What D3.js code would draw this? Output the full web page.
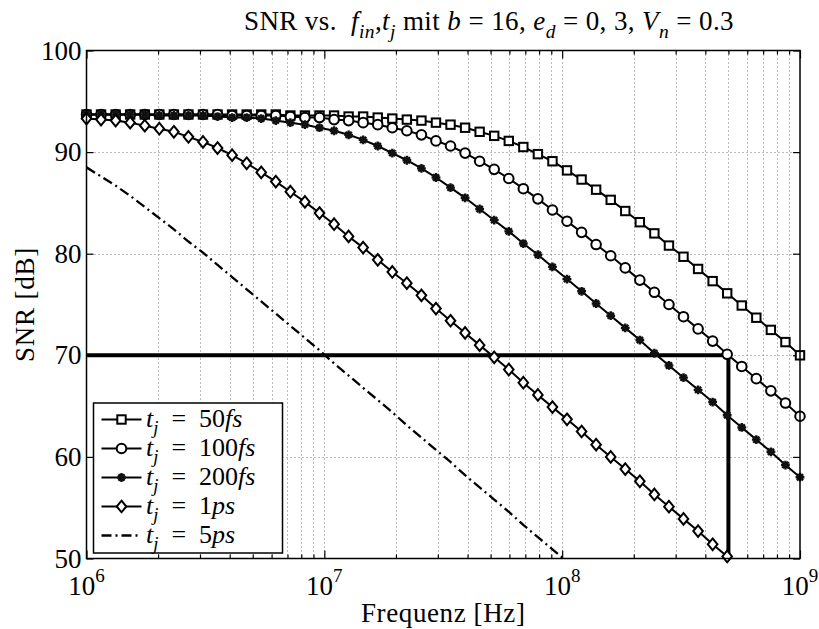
<!DOCTYPE html>
<html>
<head>
<meta charset="utf-8">
<script src="https://cdn.jsdelivr.net/npm/d3@7"></script>
<style>
  body { margin: 0; background: #fff; }
  svg text { font-family: "Liberation Serif", "Times New Roman", serif; fill: #000; white-space: pre; }
</style>
</head>
<body>
<div id="graph"></div>
<script>
// sample frequencies (Hz), 50 log-spaced points
var freqs = [
  1.000e6, 1.151e6, 1.326e6, 1.526e6, 1.758e6, 2.024e6, 2.330e6, 2.683e6, 3.089e6, 3.556e6,
  4.095e6, 4.715e6, 5.429e6, 6.251e6, 7.197e6, 8.286e6, 9.541e6, 1.099e7, 1.265e7, 1.456e7,
  1.677e7, 1.931e7, 2.223e7, 2.560e7, 2.947e7, 3.393e7, 3.907e7, 4.498e7, 5.179e7, 5.964e7,
  6.866e7, 7.906e7, 9.103e7, 1.048e8, 1.207e8, 1.389e8, 1.600e8, 1.842e8, 2.121e8, 2.442e8,
  2.812e8, 3.237e8, 3.728e8, 4.292e8, 4.942e8, 5.690e8, 6.551e8, 7.543e8, 8.685e8, 1.000e9
];

// SNR values in dB
var snr50fs = [
  93.7, 93.7, 93.7, 93.7, 93.7, 93.7, 93.7, 93.7, 93.7, 93.7,
  93.7, 93.7, 93.7, 93.7, 93.6, 93.6, 93.6, 93.6, 93.5, 93.5,
  93.4, 93.3, 93.2, 93.1, 92.9, 92.7, 92.4, 92.0, 91.6, 91.1,
  90.5, 89.8, 89.1, 88.2, 87.3, 86.3, 85.3, 84.2, 83.1, 82.0,
  80.8, 79.7, 78.5, 77.3, 76.1, 74.9, 73.7, 72.5, 71.3, 70.0
];
var snr100fs = [
  93.7, 93.7, 93.7, 93.7, 93.7, 93.7, 93.7, 93.7, 93.7, 93.7,
  93.6, 93.6, 93.6, 93.6, 93.5, 93.4, 93.4, 93.2, 93.1, 92.9,
  92.7, 92.4, 92.1, 91.7, 91.1, 90.6, 89.9, 89.1, 88.3, 87.4,
  86.4, 85.4, 84.3, 83.2, 82.1, 80.9, 79.8, 78.6, 77.4, 76.2,
  75.0, 73.8, 72.6, 71.4, 70.1, 68.9, 67.7, 66.5, 65.3, 64.0
];
var snr200fs = [
  93.7, 93.7, 93.7, 93.7, 93.7, 93.6, 93.6, 93.6, 93.6, 93.5,
  93.4, 93.4, 93.3, 93.1, 92.9, 92.7, 92.4, 92.1, 91.7, 91.2,
  90.6, 89.9, 89.2, 88.4, 87.5, 86.5, 85.5, 84.4, 83.3, 82.2,
  81.0, 79.9, 78.7, 77.5, 76.3, 75.1, 73.9, 72.7, 71.5, 70.2,
  69.0, 67.8, 66.6, 65.4, 64.1, 62.9, 61.7, 60.5, 59.2, 58.0
];
var snr1ps = [
  93.3, 93.2, 93.1, 92.9, 92.6, 92.3, 92.0, 91.5, 91.0, 90.4,
  89.7, 88.9, 88.0, 87.1, 86.1, 85.1, 84.0, 82.9, 81.7, 80.6,
  79.4, 78.2, 77.1, 75.9, 74.6, 73.4, 72.2, 71.0, 69.8, 68.6,
  67.3, 66.1, 64.9, 63.7, 62.5, 61.2, 60.0, 58.8, 57.6, 56.3,
  55.1, 53.9, 52.7, 51.4, 50.2
];
var snr5ps = [
  88.5, 87.6, 86.7, 85.7, 84.6, 83.5, 82.4, 81.2, 80.1, 78.9,
  77.7, 76.5, 75.3, 74.1, 72.9, 71.7, 70.5, 69.2, 68.0, 66.8,
  65.6, 64.4, 63.1, 61.9, 60.7, 59.5, 58.2, 57.0, 55.8, 54.6,
  53.3, 52.1, 50.9, 49.7
];

// 70 dB requirement, reached at 500 MHz
var refLevel = 70;
var refFreq = 5e8;

var yTicks = [50, 60, 70, 80, 90, 100];
var xMajor = [1e6, 1e7, 1e8, 1e9];
var xExponents = ["6", "7", "8", "9"];

var series = [
  { name: "50", unit: "fs", values: snr50fs, marker: "square" },
  { name: "100", unit: "fs", values: snr100fs, marker: "circle" },
  { name: "200", unit: "fs", values: snr200fs, marker: "star" },
  { name: "1", unit: "ps", values: snr1ps, marker: "diamond" },
  { name: "5", unit: "ps", values: snr5ps, marker: "none" }
];

var width = 819, height = 629;
// plot box edges (note: "top" is reserved by window, so use p* names)
var pLeft = 86.5, pRight = 800, pTop = 50.5, pBottom = 558.5;

var svg = d3.select("#graph").append("svg")
    .attr("width", width)
    .attr("height", height);

var x = d3.scaleLog().domain([1e6, 1e9]).range([pLeft, pRight]);
var y = d3.scaleLinear().domain([50, 100]).range([pBottom, pTop]);

// minor ticks of log axis
var xMinor = [];
xMajor.slice(0, 3).forEach(function(m) {
    for (var k = 2; k <= 9; k++) xMinor.push(m * k);
});

svg.append("defs").append("clipPath").attr("id", "plotclip")
  .append("rect").attr("x", pLeft).attr("y", pTop)
  .attr("width", pRight - pLeft).attr("height", pBottom - pTop);

// grid
var grid = svg.append("g").attr("class", "grid")
    .style("stroke", "#777").style("stroke-width", 1).style("stroke-dasharray", "1,3");
grid.selectAll("line.gx").data(xMajor.slice(1, 3).concat(xMinor)).enter().append("line")
    .attr("x1", function(d) { return Math.round(x(d)) + 0.5; })
    .attr("x2", function(d) { return Math.round(x(d)) + 0.5; })
    .attr("y1", pTop).attr("y2", pBottom);
grid.selectAll("line.gy").data(yTicks.slice(1, 5)).enter().append("line")
    .attr("y1", function(d) { return Math.round(y(d)) + 0.5; })
    .attr("y2", function(d) { return Math.round(y(d)) + 0.5; })
    .attr("x1", pLeft).attr("x2", pRight);

// axis ticks (inward, on all four sides)
function styleAxis(g) {
    g.select(".domain").remove();
    g.selectAll("line").style("stroke", "#000").style("stroke-width", 1.2);
    g.selectAll("text").remove();
}
svg.append("g").attr("transform", "translate(0," + pBottom + ")")
    .call(d3.axisBottom(x).tickValues(xMajor).tickSize(-8)).call(styleAxis);
svg.append("g").attr("transform", "translate(0," + pBottom + ")")
    .call(d3.axisBottom(x).tickValues(xMinor).tickSize(-4)).call(styleAxis);
svg.append("g").attr("transform", "translate(0," + pTop + ")")
    .call(d3.axisTop(x).tickValues(xMajor).tickSize(-8)).call(styleAxis);
svg.append("g").attr("transform", "translate(0," + pTop + ")")
    .call(d3.axisTop(x).tickValues(xMinor).tickSize(-4)).call(styleAxis);
svg.append("g").attr("transform", "translate(" + pLeft + ",0)")
    .call(d3.axisLeft(y).tickValues(yTicks).tickSize(-7)).call(styleAxis);
svg.append("g").attr("transform", "translate(" + pRight + ",0)")
    .call(d3.axisRight(y).tickValues(yTicks).tickSize(-7)).call(styleAxis);

// y tick labels
svg.selectAll("text.ylab").data(yTicks).enter().append("text")
    .attr("class", "ylab")
    .attr("x", pLeft - 5)
    .attr("y", function(d) { return y(d) + 9; })
    .attr("text-anchor", "end")
    .style("font-size", "27px")
    .text(function(d) { return d; });

// x tick labels 10^n
xMajor.forEach(function(d, i) {
    var t = svg.append("text")
        .attr("x", x(d))
        .attr("y", 595)
        .attr("text-anchor", "middle")
        .style("font-size", "27px");
    t.append("tspan").text("10");
    t.append("tspan").attr("dy", -13).style("font-size", "19px").text(xExponents[i]);
});

// axis titles
svg.append("text")
    .attr("x", (pLeft + pRight) / 2)
    .attr("y", 622)
    .attr("text-anchor", "middle")
    .style("font-size", "27px")
    .style("letter-spacing", "0.6px")
    .text("Frequenz [Hz]");

svg.append("text")
    .attr("transform", "translate(34," + ((pTop + pBottom) / 2) + ") rotate(-90)")
    .attr("text-anchor", "middle")
    .style("font-size", "27px")
    .style("letter-spacing", "0.8px")
    .text("SNR [dB]");

// title with math parts
function richText(sel, parts, size) {
    var shift = 0;
    parts.forEach(function(p) {
        var t = sel.append("tspan").text(p.t);
        var dy = 0;
        if (p.sub) {
            dy = size * 0.28 - shift;
            shift = size * 0.28;
            t.style("font-size", (size * 0.72) + "px");
        } else {
            dy = -shift;
            shift = 0;
        }
        if (dy !== 0) t.attr("dy", dy);
        if (p.i) t.style("font-style", "italic");
    });
}

var title = svg.append("text")
    .attr("x", 489)
    .attr("y", 30)
    .attr("text-anchor", "middle")
    .style("font-size", "27px")
    .style("letter-spacing", "0.4px");
richText(title, [
    { t: "SNR vs.  " }, { t: "f", i: true }, { t: "in", i: true, sub: true }, { t: "," },
    { t: "t", i: true }, { t: "j", i: true, sub: true }, { t: " mit " },
    { t: "b", i: true }, { t: " = 16, " }, { t: "e", i: true }, { t: "d", i: true, sub: true },
    { t: " = 0, 3, " }, { t: "V", i: true }, { t: "n", i: true, sub: true }, { t: " = 0.3" }
], 27);

// marker drawing
function drawMarker(g, type, cx, cy) {
    if (type === "square") {
        g.append("rect").attr("x", cx - 4.2).attr("y", cy - 4.2).attr("width", 8.4).attr("height", 8.4)
            .style("fill", "#fff").style("stroke", "#000").style("stroke-width", 2);
    } else if (type === "circle") {
        g.append("circle").attr("cx", cx).attr("cy", cy).attr("r", 4.8)
            .style("fill", "#fff").style("stroke", "#000").style("stroke-width", 2);
    } else if (type === "diamond") {
        g.append("path")
            .attr("d", "M" + cx + "," + (cy - 5.8) + "L" + (cx + 4.8) + "," + cy +
                "L" + cx + "," + (cy + 5.8) + "L" + (cx - 4.8) + "," + cy + "Z")
            .style("fill", "#fff").style("stroke", "#000").style("stroke-width", 2);
    } else if (type === "star") {
        var r = 4.4, q = 3.1;
        g.append("path")
            .attr("d", "M" + (cx - r) + "," + cy + "H" + (cx + r) +
                "M" + cx + "," + (cy - r) + "V" + (cy + r) +
                "M" + (cx - q) + "," + (cy - q) + "L" + (cx + q) + "," + (cy + q) +
                "M" + (cx - q) + "," + (cy + q) + "L" + (cx + q) + "," + (cy - q))
            .style("fill", "none").style("stroke", "#111").style("stroke-width", 2.4);
        g.append("circle").attr("cx", cx).attr("cy", cy).attr("r", 2.8).style("fill", "#111");
    }
}

var line = d3.line()
    .x(function(d, i) { return x(freqs[i]); })
    .y(function(d) { return y(d); });

var plot = svg.append("g").attr("clip-path", "url(#plotclip)");

series.forEach(function(s) {
    var path = plot.append("path")
        .attr("d", line(s.values))
        .style("fill", "none")
        .style("stroke", "#000")
        .style("stroke-width", 2);
    if (s.marker === "none") path.style("stroke-width", 2.3).style("stroke-dasharray", "10,4,2,4");
});

// 70 dB reference lines
svg.append("path")
    .attr("d", "M" + x(1e6) + "," + y(refLevel) + "H" + x(refFreq) + "V" + y(50))
    .style("fill", "none").style("stroke", "#000").style("stroke-width", 4)
    .style("stroke-linejoin", "miter");

var markers = svg.append("g");
series.forEach(function(s) {
    if (s.marker === "none") return;
    s.values.forEach(function(v, i) {
        drawMarker(markers, s.marker, x(freqs[i]), y(v));
    });
});

// plot frame
svg.append("rect").attr("x", pLeft).attr("y", pTop)
    .attr("width", pRight - pLeft).attr("height", pBottom - pTop)
    .style("fill", "none").style("stroke", "#000").style("stroke-width", 1.5);

// legend
var lg = svg.append("g");
lg.append("rect").attr("x", 93.5).attr("y", 403).attr("width", 189).attr("height", 150)
    .style("fill", "#fff").style("stroke", "#000").style("stroke-width", 1.5);
series.forEach(function(s, i) {
    var ry = 419.5 + i * 29;
    var l = lg.append("line").attr("x1", 101.5).attr("x2", 141.5).attr("y1", ry).attr("y2", ry)
        .style("stroke", "#000").style("stroke-width", 2);
    if (s.marker === "none") l.style("stroke-width", 2.3).style("stroke-dasharray", "10,4,2,4");
    drawMarker(lg, s.marker, 121.5, ry);
    var t = lg.append("text").attr("x", 146).attr("y", ry + 7).style("font-size", "26px");
    richText(t, [
        { t: "t", i: true }, { t: "j", i: true, sub: true }, { t: "\u2002=\u2002" + s.name },
        { t: s.unit, i: true }
    ], 26);
});
</script>
</body>
</html>
